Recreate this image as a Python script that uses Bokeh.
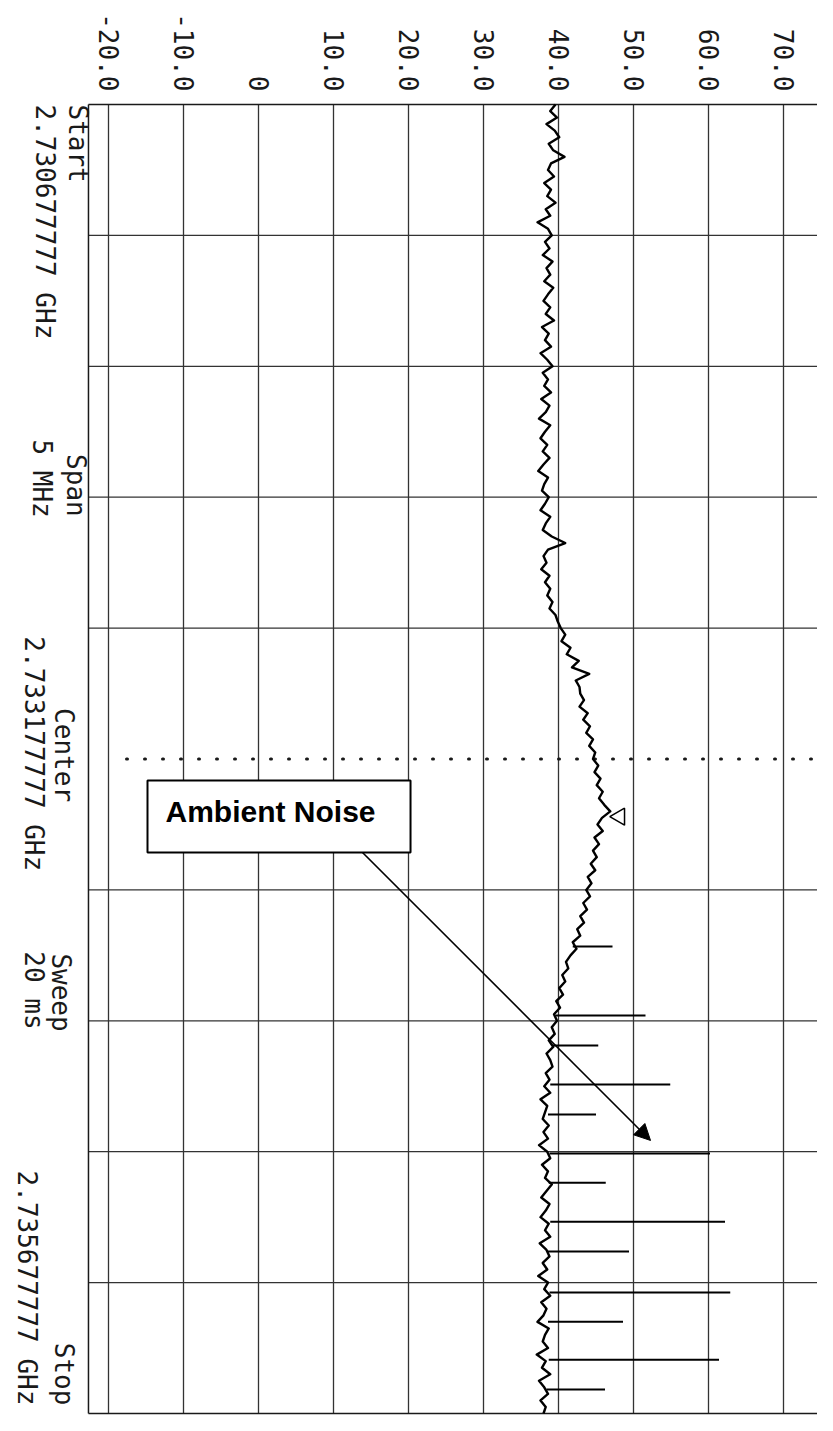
import numpy as np
from bokeh.plotting import figure
from bokeh.models import Range1d, Arrow, NormalHead
from bokeh.core.properties import value
from bokeh.transform import dodge
from bokeh.embed import file_html
from bokeh.resources import INLINE

# ---------------- data ----------------
START_MHZ = 2730.677777
STOP_MHZ = 2735.677777
CENTER_MHZ = 2733.177777

amp_ticks = [-20, -10, 0, 10, 20, 30, 40, 50, 60, 70]
amp_tick_labels = ["-20.0", "-10.0", "0", "10.0", "20.0", "30.0", "40.0", "50.0", "60.0", "70.0"]

# trace level (dB) read along the sweep, Start -> Stop
level_db = [
    39.6, 38.9, 39.8, 38.4, 39.5, 40.1, 38.7, 39.3, 40.8, 39.0,
    38.6, 39.4, 38.1, 39.0, 38.5, 39.6, 38.3, 38.9, 37.2, 38.6,
    39.1, 38.2, 38.8, 37.9, 39.2, 38.4, 38.9, 38.1, 39.3, 38.6,
    38.0, 38.9, 38.3, 39.4, 37.8, 38.7, 38.2, 39.0, 37.6, 38.5,
    39.2, 37.9, 38.6, 38.1, 39.0, 37.7, 38.8, 38.3, 37.4, 38.9,
    38.2, 37.6, 38.5, 37.9, 38.8, 38.0, 37.3, 38.6, 38.1, 37.8,
    38.7, 38.2, 37.6, 38.9, 38.3, 37.9, 39.1, 40.9, 38.6, 38.0,
    38.4, 37.7, 38.8, 38.2, 38.9, 38.5, 39.2, 38.8, 39.6, 39.9,
    40.3, 40.9, 40.4, 41.6, 41.1, 42.7, 41.8, 44.1, 42.3, 42.8,
    42.9, 43.4, 42.8, 43.9, 43.3, 44.2, 43.7, 44.6, 44.1, 44.9,
    44.6, 45.3, 44.8, 45.6, 45.1, 45.9, 45.4, 46.1, 46.9, 45.8,
    45.2, 45.9, 44.8, 45.4, 44.6, 45.1, 44.3, 44.9, 43.9, 44.4,
    43.7, 44.2, 43.3, 43.8, 42.9, 43.4, 42.5, 42.9, 41.9, 42.4,
    41.6, 41.0, 41.3, 40.5, 40.9, 40.1, 40.6, 39.7, 40.2, 39.4,
    39.8, 39.1, 39.5, 38.7, 39.3, 38.4, 38.9, 39.2, 38.3, 38.8,
    38.1, 38.9, 37.6, 38.5, 38.2, 37.9, 38.7, 38.0, 38.6, 37.4,
    38.5, 38.9, 37.8, 38.6, 38.2, 39.1, 38.4, 37.7, 38.8, 38.3,
    37.6, 38.7, 38.2, 38.9, 37.5, 38.4, 38.8, 37.9, 38.5, 37.3,
    38.6, 38.1, 38.9, 37.7, 38.4, 38.0, 37.2, 38.7, 38.2, 37.9,
    38.6, 37.1, 38.3, 37.8, 38.9, 37.4, 38.1, 38.6, 37.6, 38.3, 38.0,
]
freq_mhz = np.linspace(START_MHZ, STOP_MHZ, len(level_db))

# narrow interference spikes
spike_mhz = [2733.894, 2734.158, 2734.272, 2734.421, 2734.536, 2734.685, 2734.796,
             2734.945, 2735.059, 2735.216, 2735.327, 2735.472, 2735.586]
spike_peak_db = [47.2, 51.6, 45.3, 54.9, 45.0, 60.2, 46.3, 62.2, 49.4, 62.9, 48.6, 61.4, 46.2]
spike_base_db = [41.9, 39.6, 39.2, 38.9, 38.6, 38.8, 38.7, 38.9, 38.5, 38.8, 38.6, 38.7, 38.4]

marker_mhz = [2733.398]
marker_db = [46.9]

info_titles = ["Start", "Span", "Center", "Sweep", "Stop"]
info_values = ["2.730677777 GHz", "5 MHz", "2.733177777 GHz", "20 ms", "2.735677777 GHz"]

annotation_text = "Ambient Noise"

# ---------------- layout / style ----------------
W, H = 817, 1415
PX_PER_DB = 7.5
PX_PER_MHZ = 261.8
X0_PX = 108.0   # px of -20 dB
Y0_PX = 104.0   # px of Start frequency

x_lo = -20 - X0_PX / PX_PER_DB
x_hi = -20 + (W - X0_PX) / PX_PER_DB
y_top = START_MHZ - Y0_PX / PX_PER_MHZ
y_bot = START_MHZ + (H - Y0_PX) / PX_PER_MHZ

BORDER_LEFT = -22.67
INK = "#1a1a1a"
GRID = "#333333"
PLOT_FONT = "DejaVu Sans Mono"
PLOT_FONT_SIZE = "26px"

p = figure(width=W, height=H, x_range=Range1d(x_lo, x_hi),
           y_range=Range1d(start=y_bot, end=y_top),
           output_backend="svg", toolbar_location=None, min_border=0,
           x_axis_location=None, y_axis_location=None)
p.xgrid.visible = False
p.ygrid.visible = False
p.outline_line_color = None
p.background_fill_color = "white"
p.border_fill_color = "white"

# grid: vertical amplitude lines
p.segment(x0=amp_ticks, x1=amp_ticks, y0=[START_MHZ] * len(amp_ticks),
          y1=[STOP_MHZ] * len(amp_ticks), line_color=GRID, line_width=1.3)
# grid: horizontal frequency divisions (center one is dotted)
div_mhz = [START_MHZ + k * (STOP_MHZ - START_MHZ) / 10 for k in range(1, 10) if k != 5]
p.segment(x0=[BORDER_LEFT] * len(div_mhz), x1=[x_hi] * len(div_mhz), y0=div_mhz, y1=div_mhz,
          line_color=GRID, line_width=1.3)
# borders
p.segment(x0=[BORDER_LEFT, BORDER_LEFT, BORDER_LEFT], x1=[BORDER_LEFT, x_hi, x_hi],
          y0=[START_MHZ, START_MHZ, STOP_MHZ], y1=[STOP_MHZ, START_MHZ, STOP_MHZ],
          line_color=INK, line_width=1.5)
# dotted center line
p.segment(x0=[-17.6], x1=[x_hi], y0=[CENTER_MHZ], y1=[CENTER_MHZ],
          line_color=INK, line_width=3, line_dash="1 17", line_cap="round")

# trace
p.line(level_db, freq_mhz, line_color="black", line_width=2.4, line_join="round")
p.segment(x0=spike_base_db, x1=spike_peak_db, y0=spike_mhz, y1=spike_mhz,
          line_color="black", line_width=2)
# marker (open triangle pointing at the trace)
p.scatter(x=dodge("x", 1.25, range=p.x_range), y="y", source=dict(x=marker_db, y=marker_mhz),
          marker="triangle", size=17, angle=np.pi / 2, fill_color="white",
          line_color="black", line_width=1.5)

# amplitude tick labels (rotated)
p.text(x=amp_ticks, y=[START_MHZ - 0.05] * len(amp_ticks), text=amp_tick_labels,
       angle=-np.pi / 2, text_align="right", text_baseline="middle",
       text_font=value(PLOT_FONT), text_font_size=PLOT_FONT_SIZE, text_color=INK)

# frequency information labels (rotated)
title_y = [START_MHZ, START_MHZ + 1.455, CENTER_MHZ - 0.015, START_MHZ + 3.392, STOP_MHZ - 0.031]
title_x = [-22.1, -22.3, -24.0, -24.3, -24.0]
value_y = [START_MHZ, START_MHZ + 1.429, CENTER_MHZ - 0.02, START_MHZ + 3.384, STOP_MHZ - 0.031]
value_x = [-26.5, -26.9, -27.9, -28.0, -28.9]
aligns = ["left", "center", "center", "center", "right"]
p.text(x=title_x, y=title_y, text=info_titles, angle=-np.pi / 2, text_align=aligns,
       text_baseline="top", text_font=value(PLOT_FONT), text_font_size=PLOT_FONT_SIZE,
       text_color=INK)
p.text(x=value_x, y=value_y, text=info_values, angle=-np.pi / 2, text_align=aligns,
       text_baseline="top", text_font=value(PLOT_FONT), text_font_size=PLOT_FONT_SIZE,
       text_color=INK)

# annotation box + arrow
p.quad(left=[-14.8], right=[20.27], top=[START_MHZ + 2.582], bottom=[START_MHZ + 2.857],
       fill_color="white", line_color="black", line_width=2)
p.text(x=[-12.4], y=[START_MHZ + 2.700], text=[annotation_text], text_align="left",
       text_baseline="middle", text_font=value("Liberation Sans"), text_font_style="bold",
       text_font_size="30px", text_color="black")
p.add_layout(Arrow(end=NormalHead(size=16, fill_color="black", line_color="black"),
                   x_start=13.87, y_start=START_MHZ + 2.857, x_end=52.27, y_end=START_MHZ + 3.957,
                   line_color="black", line_width=1.6))

open("out.html", "w").write(file_html(p, INLINE))
